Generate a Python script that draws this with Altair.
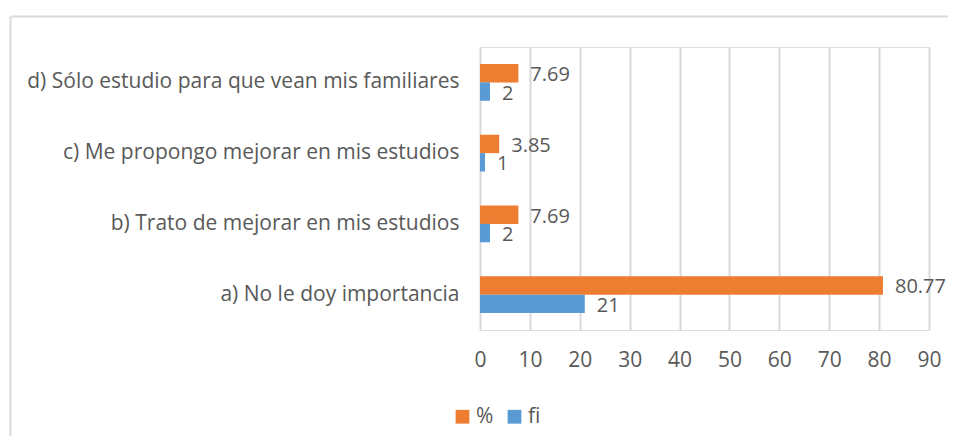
import altair as alt
import pandas as pd

categories = [
    "a) No le doy importancia",
    "b) Trato de mejorar en mis estudios",
    "c) Me propongo mejorar en mis estudios",
    "d) Sólo estudio para que vean mis familiares",
]
fi_values = [21, 2, 1, 2]
pct_values = [80.77, 7.69, 3.85, 7.69]
pct_labels = ["80.77", "7.69", "3.85", "7.69"]
fi_labels = ["21", "2", "1", "2"]
series = ["%", "fi"]
colors = ["#ED7D31", "#5B9BD5"]
x_ticks = [0, 10, 20, 30, 40, 50, 60, 70, 80, 90]

rows = []
for c, p, pl in zip(categories, pct_values, pct_labels):
    rows.append({"cat": c, "serie": "%", "value": p, "label": pl})
for c, f, fl in zip(categories, fi_values, fi_labels):
    rows.append({"cat": c, "serie": "fi", "value": f, "label": fl})
df = pd.DataFrame(rows)

FONT = "Open Sans"
GRAY = "#595959"
FS = 21

y_enc = alt.Y(
    "cat:N",
    sort=list(reversed(categories)),
    scale=alt.Scale(paddingInner=0.48, paddingOuter=0.24),
    axis=alt.Axis(title=None, ticks=False, domain=False, labelPadding=21,
                  labelFontSize=FS, labelColor=GRAY, labelFont=FONT, labelLimit=500),
)
yoff = alt.YOffset("serie:N", sort=series, scale=alt.Scale(domain=series))

x_enc = alt.X(
    "value:Q",
    scale=alt.Scale(domain=[0, 90], nice=False),
    axis=alt.Axis(title=None, values=x_ticks, ticks=False, domain=False,
                  grid=True, gridColor="#d9d9d9", gridWidth=2,
                  labelFlush=False, labelPadding=19, labelFontSize=FS,
                  labelColor=GRAY, labelFont=FONT),
)

base = alt.Chart(df)

bars = base.mark_bar().encode(
    y=y_enc,
    yOffset=yoff,
    x=x_enc,
    color=alt.Color(
        "serie:N",
        scale=alt.Scale(domain=series, range=colors),
        legend=alt.Legend(
            title=None, orient="none", direction="horizontal",
            legendX=-28, legendY=359, symbolType="square", symbolSize=190,
            symbolStrokeWidth=0, labelFontSize=FS, labelColor=GRAY, labelFont=FONT,
            columnPadding=10, labelOffset=3,
        ),
    ),
)

text = base.mark_text(align="left", baseline="middle", dx=12, dy=2,
                      fontSize=20, color=GRAY, font=FONT).encode(
    y=alt.Y("cat:N", sort=list(reversed(categories))),
    yOffset=yoff,
    x="value:Q",
    text="label:N",
)

frame_df = pd.DataFrame({"k": [0]})
top_line = alt.Chart(frame_df).mark_rule(color="#d9d9d9", strokeWidth=2).encode(
    x=alt.value(-469.5), x2=alt.value(600), y=alt.value(-30.5)
)
left_line = alt.Chart(frame_df).mark_rule(color="#d9d9d9", strokeWidth=2).encode(
    x=alt.value(-469.5), y=alt.value(-30.5), y2=alt.value(500)
)

chart = alt.layer(bars, text, top_line, left_line).properties(
    width=449, height=283,
    autosize=alt.AutoSizeParams(type="none"),
    padding={"left": 472, "top": 39, "right": 19, "bottom": 106},
).configure_view(stroke=None).configure(background="white")

chart.save("out.html", embed_options={"renderer": "svg", "actions": False})
